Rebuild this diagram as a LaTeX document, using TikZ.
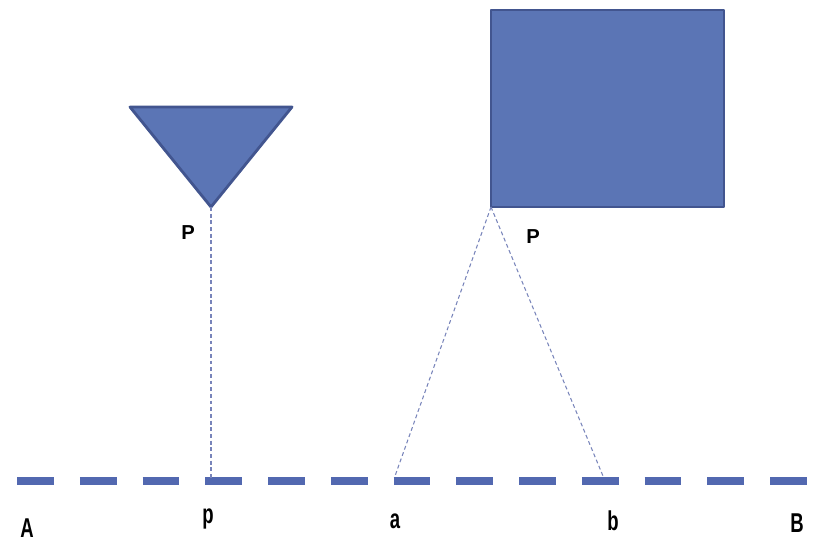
\documentclass[tikz,border=0pt]{standalone}
\usepackage{fontspec}
\usepackage{tikz}
\usetikzlibrary{positioning}
\newfontfamily\narrowfont[FakeStretch=0.68]{Liberation Sans Bold}
\newfontfamily\plainsans{Liberation Sans}
\definecolor{shapefill}{HTML}{5B75B5}
\definecolor{shapeline}{HTML}{42558F}
\definecolor{baseblue}{HTML}{5268B0}
\definecolor{projline}{HTML}{7884BA}

\tikzset{
  solid shape/.style={fill=shapefill,draw=shapeline,line width=1.6pt,line join=round},
  ground/.style={baseblue,line width=5pt,dash pattern=on 20.98pt off 14.74pt},
  projection/.style={projline,line width=0.6pt,dash pattern=on 2.2pt off 1.6pt},
  upper label/.style={anchor=base,font=\plainsans\bfseries\fontsize{11.5}{13}\selectfont},
  lower label/.style={anchor=base,font=\narrowfont\fontsize{15.5}{17}\selectfont}
}

\begin{document}
\begin{tikzpicture}[x=0.02cm,y=-0.02cm]
  \useasboundingbox (0,0) rectangle (814,540);

  % point object and its projection
  \coordinate (triL) at (130,107);
  \coordinate (triR) at (292,107);
  \coordinate (triP) at (211,207);
  \draw[solid shape] (triL) -- (triR) -- (triP) -- cycle;

  % extended object
  \coordinate (boxTL) at (491,10);
  \coordinate (boxP) at (491,207);
  \draw[solid shape] (boxTL) rectangle (724,207);

  % line AB
  \coordinate (endA) at (17,481);
  \coordinate (endB) at (810,481);
  \draw[ground] (endA) -- (endB);

  \coordinate (p) at (211,478);
  \coordinate (a) at (395,476);
  \coordinate (b) at (603,476);
  \draw[projection] (triP) -- (p);
  \draw[projection] (boxP) -- (a);
  \draw[projection] (boxP) -- (b);

  \node[upper label] (lP1) at (188,240) {P};
  \node[upper label] (lP2) at (533,244) {P};

  \node[lower label] (lA) at (27,537) {A};
  \node[lower label] (lp) at (208,523) {p};
  \node[lower label] (la) at (395,528) {a};
  \node[lower label] (lb) at (613,530) {b};
  \node[lower label] (lB) at (797,532) {B};
\end{tikzpicture}
\end{document}
